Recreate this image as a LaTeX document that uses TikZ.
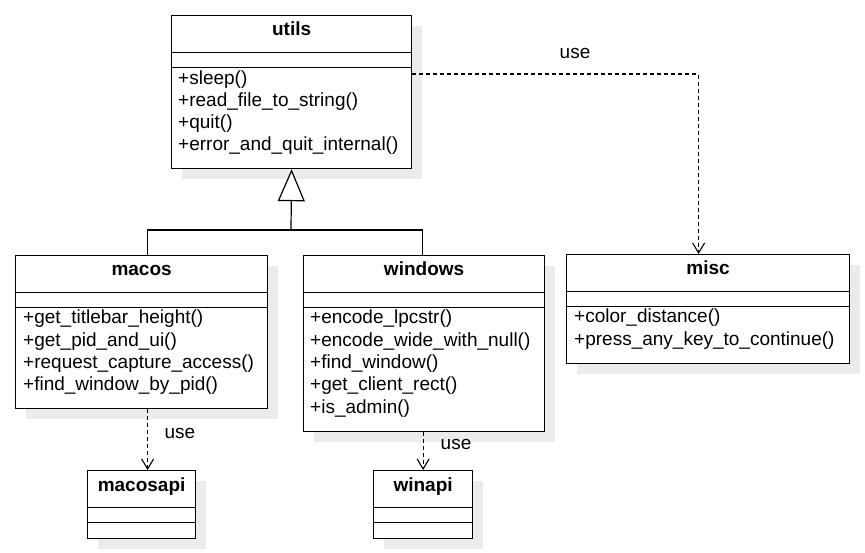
\documentclass[tikz,border=0pt]{standalone}
\usepackage{fontspec}
\setmainfont{Liberation Sans}
\usetikzlibrary{arrows.meta,shadows,calc}
\definecolor{ClassShadow}{RGB}{235,235,235}
\definecolor{ClassLine}{RGB}{0,0,0}

\tikzset{
  umlclass/.style={draw=ClassLine, line width=1.2pt, fill=white, anchor=north west, inner sep=0pt,
    drop shadow={shadow xshift=10pt, shadow yshift=-10pt, fill=ClassShadow, opacity=1}},
  classname/.style={font=\fontsize{19}{22}\selectfont\bfseries, anchor=base, inner sep=0pt},
  member/.style={anchor=base west, inner sep=0pt},
  uses/.style={ClassLine, line width=1.1pt, dash pattern=on 4pt off 3pt,
    -{Straight Barb[length=10pt,width=12pt]}},
  inherit/.style={ClassLine, line width=1.2pt, -{Triangle[open,length=32pt,width=27pt,fill=white]}},
  uselabel/.style={inner sep=0pt}
}

\begin{document}
\begin{tikzpicture}[x=1pt, y=-1pt, font=\fontsize{19}{22}\selectfont]

\useasboundingbox (0,0) rectangle (865,553);

% Class boxes
\node[umlclass, minimum width=240pt, minimum height=153pt] (utils) at (171,15) {};
\node[umlclass, minimum width=252pt, minimum height=153pt] (macos) at (15,255) {};
\node[umlclass, minimum width=241pt, minimum height=176pt] (windows) at (303,255) {};
\node[umlclass, minimum width=283pt, minimum height=109pt] (misc) at (566,254) {};
\node[umlclass, minimum width=108pt, minimum height=68pt] (macosapi) at (87,470) {};
\node[umlclass, minimum width=99pt, minimum height=68pt] (winapi) at (373,470) {};

% Compartment lines
\foreach \c in {utils, macos, windows, misc, macosapi, winapi} {
    \draw[ClassLine, line width=1.2pt] ([yshift=-37.5pt]\c.north west) -- ([yshift=-37.5pt]\c.north east);
    \draw[ClassLine, line width=1.2pt] ([yshift=-52.5pt]\c.north west) -- ([yshift=-52.5pt]\c.north east);
}

% Class names
\foreach \c in {utils, macos, windows, misc, macosapi, winapi} {
    \node[classname] (\c name) at ($(\c.north)+(0,21)$) {\c};
}

% Operations
\foreach \m [count=\i from 0] in {+sleep(), +read\_file\_to\_string(), +quit(), +error\_and\_quit\_internal()} {
    \node[member] (utilsop\i) at ($(utils.north west)+(7,70+22*\i)$) {\m};
}
\foreach \m [count=\i from 0] in {+get\_titlebar\_height(), +get\_pid\_and\_ui(), +request\_capture\_access(), +find\_window\_by\_pid()} {
    \node[member] (macosop\i) at ($(macos.north west)+(8,69+22.3*\i)$) {\m};
}
\foreach \m [count=\i from 0] in {+encode\_lpcstr(), +encode\_wide\_with\_null(), +find\_window(), +get\_client\_rect(), +is\_admin()} {
    \node[member] (windowsop\i) at ($(windows.north west)+(7,69+22.3*\i)$) {\m};
}
\foreach \m [count=\i from 0] in {+color\_distance(), +press\_any\_key\_to\_continue()} {
    \node[member] (miscop\i) at ($(misc.north west)+(8,69+22.3*\i)$) {\m};
}

% Generalization
\coordinate (split) at (291,230);
\draw[ClassLine, line width=1.2pt] ([xshift=6pt]macos.north) |- (split) -| ([xshift=-1.5pt]windows.north);
\draw[inherit] (split) -- (utils.south);

% Dependencies
\draw[uses] ([yshift=-59pt]utils.north east) -| ([xshift=-9.5pt]misc.north);
\node[uselabel] (usemisc) at (575,53) {use};
\draw[uses] ([xshift=6pt]macos.south) -- ([xshift=6pt]macosapi.north);
\node[uselabel] (usemacos) at (180,433) {use};
\draw[uses] (winapi.north |- windows.south) -- (winapi.north);
\node[uselabel] (usewin) at (456,444) {use};

\end{tikzpicture}
\end{document}
